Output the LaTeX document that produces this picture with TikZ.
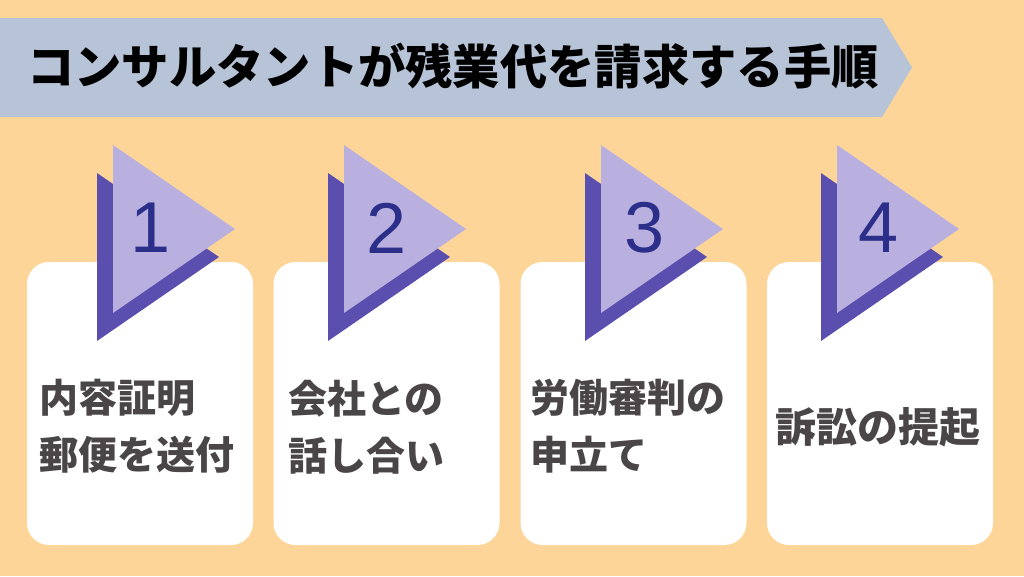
\documentclass[tikz,border=0pt]{standalone}
\usepackage{fontspec}
\setmainfont{Noto Sans CJK JP}
\newfontfamily\numfont{Liberation Sans}
\usepackage{tikz}
\usetikzlibrary{positioning}
\definecolor{peach}{HTML}{FDD598}
\definecolor{slate}{HTML}{B7C3D6}
\definecolor{violet}{HTML}{5A4FAE}
\definecolor{lilac}{HTML}{B9B0DF}
\definecolor{navy}{HTML}{2C2F8A}
\definecolor{ink}{HTML}{4A4547}

\begin{document}
\begin{tikzpicture}[x=1pt, y=-1pt,
  card/.style={fill=white, rounded corners=22pt, minimum width=226pt, minimum height=283pt, inner sep=0pt},
  heading/.style={font=\bfseries\fontsize{47.3}{50}\selectfont, text=black, anchor=west, inner sep=0pt},
  stepname/.style={font=\bfseries\fontsize{39}{57}\selectfont, text=ink, align=left, anchor=west, inner sep=0pt},
  num/.style={font=\numfont\fontsize{72}{72}\selectfont, text=navy, inner sep=0pt},
  back/.style={fill=violet},
  front/.style={fill=lilac}
]
  \fill[peach] (0,0) rectangle (1024,576);
  \useasboundingbox (0,0) rectangle (1024,576);

  % title banner
  \fill[slate] (0,18) -- (882,18) -- (912,67.5) -- (882,117) -- (0,117) -- cycle;
  \node[heading] (title) at (27,66) {コンサルタントが残業代を請求する手順};

  % cards
  \node[card] (c1) at (140,403.5) {};
  \node[card] (c2) at (386.5,403.5) {};
  \node[card] (c3) at (633.5,403.5) {};
  \node[card] (c4) at (880,403.5) {};

  % step markers
  \fill[back] (97,173) -- (97,341) -- (219,257) -- cycle;
  \fill[front] (113,145) -- (113,313) -- (235,229) -- cycle;
  \node[num] (n1) at (151,228) {1};
  \fill[back] (328,173) -- (328,341) -- (450,257) -- cycle;
  \fill[front] (344,145) -- (344,313) -- (466,229) -- cycle;
  \node[num] (n2) at (387,228) {2};
  \fill[back] (585,173) -- (585,341) -- (707,257) -- cycle;
  \fill[front] (601,145) -- (601,313) -- (723,229) -- cycle;
  \node[num] (n3) at (645,228) {3};
  \fill[back] (821,173) -- (821,341) -- (943,257) -- cycle;
  \fill[front] (837,145) -- (837,313) -- (959,229) -- cycle;
  \node[num] (n4) at (879,228) {4};

  % step texts
  \node[stepname] (s1) at (39,426) {内容証明\\郵便を送付};
  \node[stepname] (s2) at (288,427) {会社との\\話し合い};
  \node[stepname] (s3) at (530,426) {労働審判の\\申立て};
  \node[stepname, font=\bfseries\fontsize{41}{57}\selectfont] (s4) at (775,427) {訴訟の提起};
\end{tikzpicture}
\end{document}
